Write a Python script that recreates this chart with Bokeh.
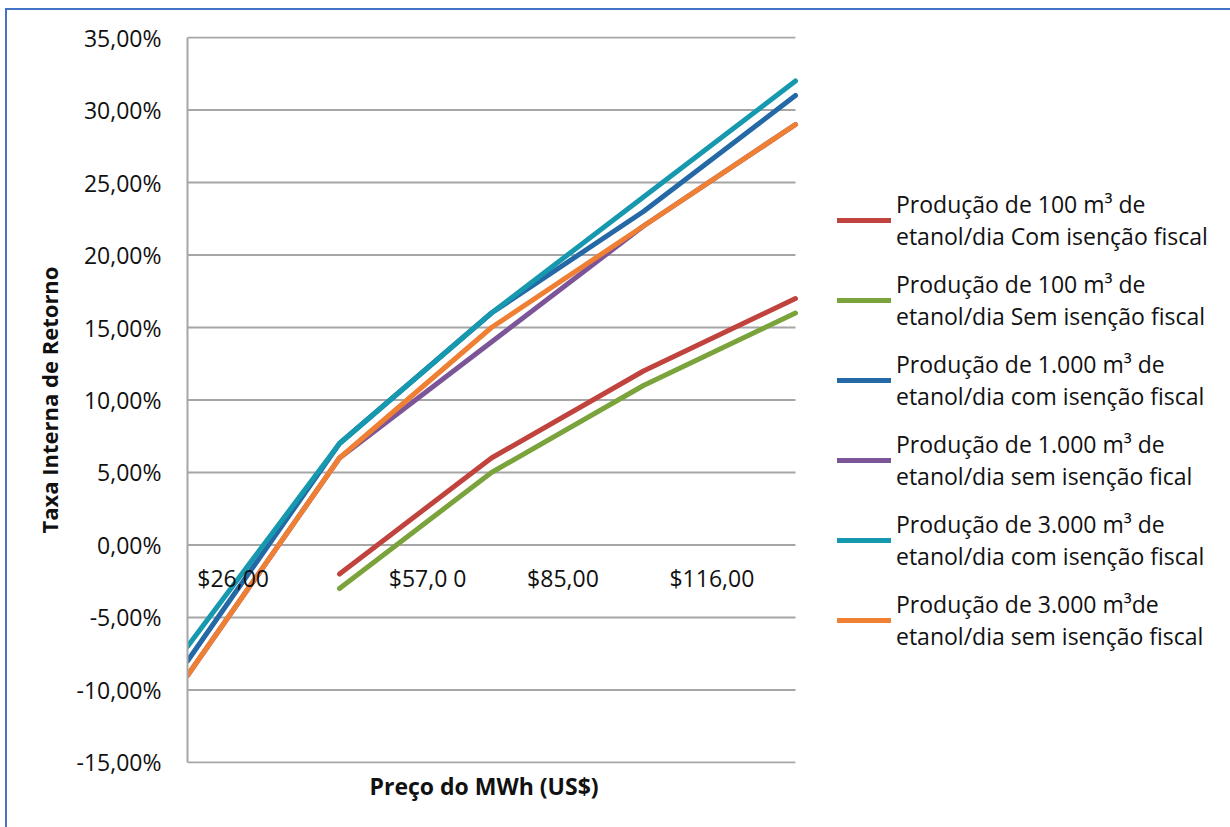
from bokeh.plotting import figure
from bokeh.models import Range1d, FixedTicker, Legend, LegendItem, Title
from bokeh.core.properties import value
from bokeh.embed import file_html
from bokeh.resources import INLINE

# Price points (index along the price axis) and IRR values in percent
points = [0, 1, 2, 3, 4]
nan = float("nan")
irr_100_com = [nan, -2, 6, 12, 17]
irr_100_sem = [nan, -3, 5, 11, 16]
irr_1000_com = [-8, 7, 16, 23, 31]
irr_1000_sem = [-9, 6, 14, 22, 29]
irr_3000_com = [-7, 7, 16, 24, 32]
irr_3000_sem = [-9, 6, 15, 22, 29]

series_labels = [
    "Produção de 100 m³ de\netanol/dia Com isenção fiscal",
    "Produção de 100 m³ de\netanol/dia Sem isenção fiscal",
    "Produção de 1.000 m³ de\netanol/dia com isenção fiscal",
    "Produção de 1.000 m³ de\netanol/dia sem isenção fical",
    "Produção de 3.000 m³ de\netanol/dia com isenção fiscal",
    "Produção de 3.000 m³de\netanol/dia sem isenção fiscal",
]
series_values = [irr_100_com, irr_100_sem, irr_1000_com, irr_1000_sem, irr_3000_com, irr_3000_sem]
series_colors = ["#C0433E", "#7AA33C", "#2468A6", "#7B5598", "#1698AE", "#EF8033"]

price_labels = ["$26,00", "$57,0 0", "$85,00", "$116,00"]
price_label_x = [0.30, 1.58, 2.47, 3.45]
price_label_y = -2.3

y_ticks = [-15, -10, -5, 0, 5, 10, 15, 20, 25, 30, 35]

FONT = "Open Sans"
GRID = "#A6A6A6"
INK = "#111111"

# The frame runs to the right edge so the legend can sit beside the lines;
# the series span x = 0..4 and the gridlines are limited to that span.
p = figure(
    width=1223, height=817,
    x_range=Range1d(0, 6.862), y_range=Range1d(-15.07, 35.07),
    output_backend="svg", toolbar_location=None,
    min_border_left=180, min_border_right=0,
    min_border_top=26, min_border_bottom=64,
    margin=(10, 0, 0, 7),
)
p.styles = {"outline": "2px solid #4472C4"}
p.outline_line_color = None
p.background_fill_color = "white"
p.border_fill_color = "white"

# y axis
p.yaxis.ticker = FixedTicker(ticks=y_ticks)
p.yaxis.major_label_overrides = {t: (f"{t:.2f}%").replace(".", ",") for t in y_ticks}
p.yaxis.bounds = (-15, 35)
p.yaxis.axis_line_color = GRID
p.yaxis.axis_line_width = 2
p.yaxis.major_tick_line_color = None
p.yaxis.minor_tick_line_color = None
p.yaxis.major_tick_out = 0
p.yaxis.major_label_standoff = 26
p.yaxis.major_label_text_font = FONT
p.yaxis.major_label_text_font_size = "23px"
p.yaxis.major_label_text_color = INK
p.yaxis.axis_label = "Taxa Interna de Retorno"
p.yaxis.axis_label_text_font = FONT
p.yaxis.axis_label_text_font_size = "22px"
p.yaxis.axis_label_text_font_style = "bold"
p.yaxis.axis_label_text_color = INK
p.yaxis.axis_label_standoff = 10

p.xaxis.visible = False
p.grid.visible = False

# horizontal gridlines over the price span
p.segment(x0=[points[0]] * len(y_ticks), x1=[points[-1]] * len(y_ticks),
          y0=y_ticks, y1=y_ticks, line_color=GRID, line_width=2)

# x axis title, starting at its offset from the frame's left edge
p.add_layout(Title(text="Preço do MWh (US$)", align="left", offset=182,
                   text_font=FONT, text_font_size="23px", text_font_style="bold",
                   text_color=INK, standoff=8), "below")

renderers = []
for vals, col in zip(series_values, series_colors):
    r = p.line(points, vals, line_color=col, line_width=5,
               line_cap="round", line_join="round")
    renderers.append(r)

p.text(x=price_label_x, y=[price_label_y] * len(price_labels), text=price_labels,
       text_font=value(FONT), text_font_size="23px", text_color=INK,
       text_align="center", text_baseline="middle")

legend = Legend(
    items=[LegendItem(label=lab, renderers=[r]) for lab, r in zip(series_labels, renderers)],
    location=(650, 111),
    border_line_color=None,
    background_fill_alpha=0,
    label_text_font=FONT,
    label_text_font_size="23px",
    label_text_color=INK,
    glyph_width=54,
    glyph_height=30,
    label_standoff=5,
    spacing=16,
    padding=0,
    margin=0,
)
p.add_layout(legend, "center")

open("out.html", "w").write(file_html(p, INLINE))
